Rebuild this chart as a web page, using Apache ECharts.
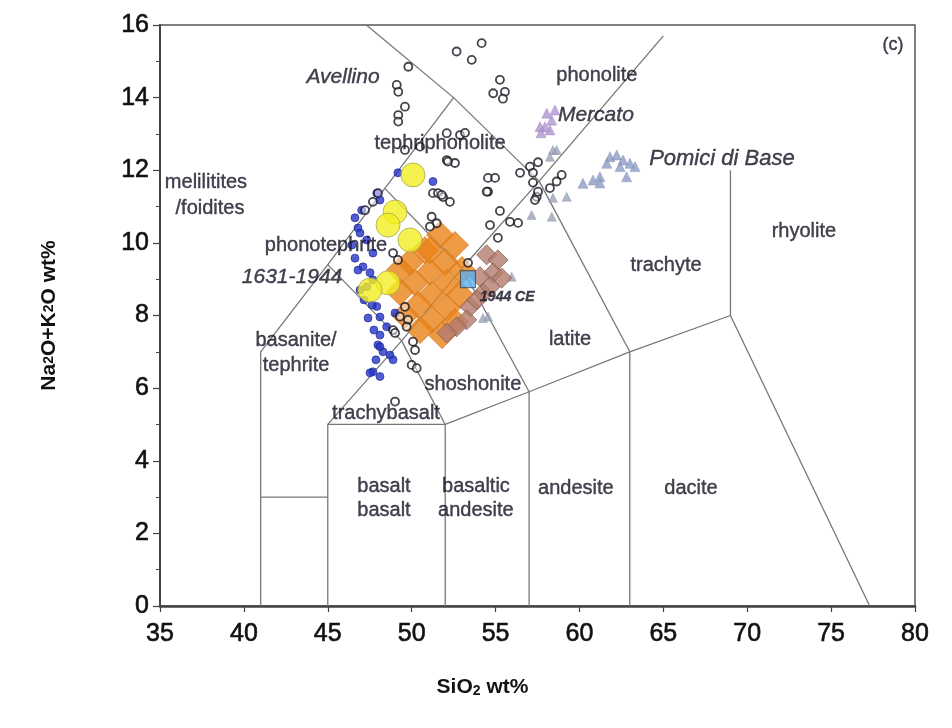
<!DOCTYPE html>
<html><head><meta charset="utf-8">
<script src="https://cdn.jsdelivr.net/npm/echarts@6/dist/echarts.min.js"></script>
<style>html,body{margin:0;padding:0;background:#fff}#c{width:952px;height:728px}</style>
</head><body><div id="c"></div>
<script>
// ---- axis ticks ----
const xTicks = [35,40,45,50,55,60,65,70,75,80];
const yTicks = [0,2,4,6,8,10,12,14,16];

// ---- TAS field boundaries (SiO2, Na2O+K2O) ----
const bLeft      = [[41,0],[41,7],[45,9.4],[48.4,11.5],[52.5,14],[47.3,16]];
const bPicro     = [[41,3],[45,3]];
const bBasaltL   = [[45,0],[45,5],[52,5],[57,5.9],[63,7],[69,8],[77.3,0]];
const bV52       = [[52,0],[52,5]];
const bV57       = [[57,0],[57,5.9]];
const bV63       = [[63,0],[63,7]];
const bV69       = [[69,8],[69,12]];
const bDiag      = [[45,5],[49.4,7.3],[53,9.3],[57.6,11.7],[65,15.7]];
const bS1        = [[49.4,7.3],[52,5]];
const bS2        = [[53,9.3],[57,5.9]];
const bS3        = [[57.6,11.7],[63,7]];
const bU2        = [[45,9.4],[49.4,7.3]];
const bU3        = [[48.4,11.5],[53,9.3]];
const bPh        = [[52.5,14],[57.6,11.7]];

// ---- samples ----
const avellinoEtc = [
 [54.17,15.50],[53.58,15.04],[52.68,15.27],[49.80,14.85],[49.11,14.35],[49.20,14.16],[49.60,13.75],
 [49.20,13.52],[49.20,13.34],[55.26,14.49],[54.86,14.12],[55.56,14.16],[55.44,13.97],[52.09,13.02],
 [52.88,12.97],[53.18,13.03],[49.60,12.56],[50.50,12.65],[52.09,12.28],[52.58,12.20],[56.46,11.93],
 [57.05,12.10],[57.23,11.66],[57.45,11.27],[54.55,11.79],[54.55,11.41],[51.27,11.37],[51.57,11.37],
 [51.87,11.26],[52.28,11.13],[47.99,11.37],[47.69,11.13],[47.22,10.90],[51.19,10.72],[51.49,10.54],
 [51.09,10.45],[55.26,10.88],[55.86,10.58],[56.34,10.55],[54.67,10.49],[55.14,10.14],[48.89,9.72],
 [49.18,9.53],[49.60,8.24],[49.78,7.88],[48.89,7.60],[57.53,12.22],[57.23,11.93],[58.94,11.87],
 [58.64,11.69],[58.24,11.51],[57.53,11.41],[57.35,11.18],[54.97,11.79],[54.47,11.41],[52.16,12.24],
 [51.79,11.32],[53.36,9.45],[49.30,7.97],[49.70,7.69],[49.01,7.52],[50.08,7.28],[50.20,7.05],
 [50.00,6.64],[49.01,5.63],[50.30,6.55]
];
const recent1631 = [
 [47.92,11.37],[48.11,11.18],[49.18,11.93],[51.27,11.69],[47.02,10.90],[46.62,10.69],[46.80,10.41],
 [46.92,10.27],[47.32,10.08],[47.69,9.72],[47.10,9.34],[47.52,9.18],[47.69,8.98],[47.32,8.79],
 [46.92,8.70],[47.16,8.43],[47.92,8.25],[47.64,8.29],[48.11,7.96],[48.51,7.69],[47.40,7.93],
 [47.75,7.60],[48.11,7.46],[47.99,7.19],[48.29,7.00],[48.11,7.14],[48.71,6.91],[48.89,6.78],
 [47.87,6.78],[47.69,6.45],[48.11,6.32],[47.52,6.42],[49.01,8.07],[46.44,9.94],[46.62,9.58],[46.80,9.25]
];
const yellowSet = [[50.08,11.87],[49.01,10.85],[48.59,10.49],[49.90,10.08],[48.59,8.90],[47.52,8.70]];
const orangeSet = [
 [51.69,10.22],[52.58,9.94],[50.79,9.80],[49.90,9.47],[51.99,9.47],[53.00,9.25],[51.09,9.20],
 [50.20,8.90],[52.11,8.90],[49.30,8.65],[51.21,8.57],[52.88,8.57],[50.38,8.29],[52.11,8.21],
 [49.60,8.01],[51.21,7.88],[52.58,7.82],[50.50,7.60],[51.81,7.46],[51.09,9.80],[49.30,9.25]
];
const brownSet = [
 [54.47,9.67],[55.14,9.53],[54.85,9.17],[55.37,9.03],[54.07,9.07],[54.25,8.62],[53.48,8.24],
 [53.28,7.88],[52.68,7.69],[52.09,7.52],[53.88,8.43],[54.67,8.79]
];
const ce1944 = [[53.35,9.0]];
const mercato = [[58.05,13.57],[58.35,13.38],[58.24,13.11],[57.94,13.20],[58.54,13.66],[57.65,13.20],[57.71,13.03]];
const pomici = [
 [61.82,12.37],[62.22,12.42],[62.60,12.28],[63.01,12.19],[63.31,12.10],[61.63,12.19],[62.42,12.10],
 [62.81,11.82],[61.22,11.82],[60.81,11.73],[60.21,11.64],[61.22,11.65]
];
const greyTri = [[58.42,12.56],[58.24,12.37],[58.64,12.56],[58.42,11.24],[59.24,11.27],[57.15,10.77],
 [58.35,10.72],[55.96,9.07],[54.55,7.97],[54.25,7.93]];

// ---- text labels: [x, y, text, kind] ----
const fieldLabels = [
 [37.74,11.65,'melilitites','n'],[37.98,10.96,'/foidites','n'],
 [61.04,14.62,'phonolite','n'],[51.69,12.75,'tephriphonolite','n'],
 [44.89,9.94,'phonotephrite','n'],[65.16,9.39,'trachyte','n'],[73.38,10.30,'rhyolite','n'],
 [59.44,7.33,'latite','n'],[43.11,7.30,'basanite/','n'],[43.11,6.61,'tephrite','n'],
 [53.65,6.11,'shoshonite','n'],[48.47,5.29,'trachybasalt','n'],
 [48.35,3.30,'basalt','n'],[48.35,2.64,'basalt','n'],[53.83,3.30,'basaltic','n'],[53.83,2.64,'andesite','n'],
 [59.79,3.25,'andesite','n'],[66.65,3.25,'dacite','n'],[78.69,15.45,'(c)','c'],
 [45.91,14.57,'Avellino','i'],[60.98,13.52,'Mercato','i'],[68.49,12.31,'Pomici di Base','i'],
 [42.87,9.06,'1631-1944','i'],[55.70,8.50,'1944 CE','b']
];

const FONT = 'Liberation Sans, Arial, sans-serif';
const chart = echarts.init(document.getElementById('c'));

function bline(d){return {type:'line',data:d,symbol:'none',silent:true,z:1,
  lineStyle:{color:'#777',width:1.3},animation:false};}

const series = [bLeft,bPicro,bBasaltL,bV52,bV57,bV63,bV69,bDiag,bS1,bS2,bS3,bU2,bU3,bPh].map(bline);

series.push({type:'scatter',data:greyTri,symbol:'triangle',symbolSize:9,z:3,
  itemStyle:{color:'#9aa3b5',borderColor:'#8890a5',borderWidth:0.5}});
series.push({type:'scatter',data:mercato,symbol:'triangle',symbolSize:10,z:3,
  itemStyle:{color:'#b095cf',borderColor:'#9a80c0',borderWidth:0.5}});
series.push({type:'scatter',data:pomici,symbol:'triangle',symbolSize:10,z:3,
  itemStyle:{color:'#8e9cc6',borderColor:'#7a88b5',borderWidth:0.5}});
series.push({type:'scatter',data:orangeSet,symbol:'diamond',symbolSize:[27,27],z:3,
  itemStyle:{color:'#ea8218',borderColor:'#d4761a',borderWidth:1}});
series.push({type:'scatter',data:brownSet,symbol:'diamond',symbolSize:[20,20],z:3,
  itemStyle:{color:'#b47c6e',borderColor:'#8a5e55',borderWidth:1}});
series.push({type:'scatter',data:recent1631,symbol:'circle',symbolSize:8,z:4,
  itemStyle:{color:'#2636c8',borderColor:'#1a2290',borderWidth:0.8}});
series.push({type:'scatter',data:yellowSet,symbol:'circle',symbolSize:24,z:5,
  itemStyle:{color:'#f2ee22',borderColor:'#a8a850',borderWidth:1}});
series.push({type:'scatter',data:avellinoEtc,symbol:'circle',symbolSize:8,z:6,
  itemStyle:{color:'rgba(255,255,255,0.6)',borderColor:'#15151f',borderWidth:1.8}});
series.push({type:'scatter',data:ce1944,symbol:'rect',symbolSize:[15,17],z:7,
  itemStyle:{color:'#5ab0f0',borderColor:'#333',borderWidth:1}});

const SIZES = {n:20, i:21, b:14, c:18};
series.push({type:'scatter',z:8,silent:true,symbolSize:0,
  data:fieldLabels.map(l=>({value:[l[0],l[1]],name:l[2],
    label:{show:true,position:'inside',formatter:'{b}',
      fontFamily:FONT,
      fontSize: l[2]==='Pomici di Base' ? 22 : SIZES[l[3]],
      fontStyle: (l[3]==='i'||l[3]==='b') ? 'italic':'normal',
      fontWeight: l[3]==='b' ? 'bold':'normal',
      color: '#141424',textBorderColor:'#141424',textBorderWidth:0.4}}))});

chart.setOption({
  animation:false,
  backgroundColor:'#fff',
  grid:{left:160,right:37,top:25,bottom:122,show:true,borderColor:'#555',borderWidth:1.5},
  xAxis:{type:'value',min:xTicks[0],max:xTicks[xTicks.length-1],interval:5,
    axisLine:{show:true,lineStyle:{color:'#444',width:2.5}},
    axisTick:{show:true,length:6,lineStyle:{color:'#444',width:1.2}},
    splitLine:{show:false},
    axisLabel:{fontFamily:FONT,fontSize:25,color:'#111',margin:16,textBorderColor:'#111',textBorderWidth:0.6},
    name:'SiO{s|2} wt%',nameLocation:'middle',nameGap:70,
    nameTextStyle:{fontFamily:FONT,fontSize:21,fontWeight:'bold',color:'#111',padding:[0,110,0,0],
      rich:{s:{fontFamily:FONT,fontSize:14,fontWeight:'bold',color:'#111',verticalAlign:'bottom',padding:[8,0,0,0]}}}},
  yAxis:{type:'value',min:yTicks[0],max:yTicks[yTicks.length-1],interval:2,
    axisLine:{show:true,lineStyle:{color:'#444',width:2}},
    axisTick:{show:true,length:7,lineStyle:{color:'#444',width:1.2}},
    minorTick:{show:true,splitNumber:2,length:4,lineStyle:{color:'#444',width:1}},
    splitLine:{show:false},
    axisLabel:{fontFamily:FONT,fontSize:25,color:'#111',margin:11,textBorderColor:'#111',textBorderWidth:0.6},
    name:'Na{s|2}O+K{s|2}O wt%',nameLocation:'middle',nameGap:100,
    nameTextStyle:{fontFamily:FONT,fontSize:21,fontWeight:'bold',color:'#111',
      rich:{s:{fontFamily:FONT,fontSize:14,fontWeight:'bold',color:'#111'}}}},
  series:series
});
</script></body></html>
